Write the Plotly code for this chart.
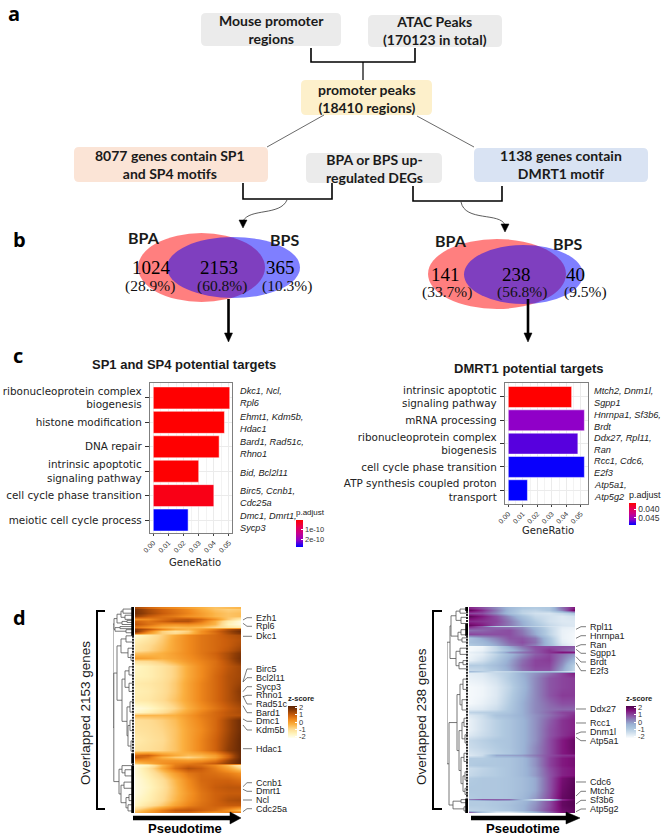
import plotly.graph_objects as go

W, H = 664, 839
# ---------- data ----------
sp_terms = ["ribonucleoprotein complex<br>biogenesis", "histone modification", "DNA repair",
            "intrinsic apoptotic<br>signaling pathway", "cell cycle phase transition", "meiotic cell cycle process"]
sp_ratio = [0.0505, 0.047, 0.0435, 0.030, 0.040, 0.023]
sp_padj = [0.13e-10, 0.13e-10, 0.13e-10, 0.14e-10, 0.3e-10, 2.69e-10]
sp_genes = ["Dkc1, Ncl,<br>Rpl6", "Ehmt1, Kdm5b,<br>Hdac1", "Bard1, Rad51c,<br>Rhno1", "Bid, Bcl2l11",
            "Birc5, Ccnb1,<br>Cdc25a", "Dmc1, Dmrt1,<br>Sycp3"]
dm_terms = ["intrinsic apoptotic<br>signaling pathway", "mRNA processing", "ribonucleoprotein complex<br>biogenesis",
            "cell cycle phase transition", "ATP synthesis coupled proton<br>transport"]
dm_ratio = [0.0437, 0.0525, 0.048, 0.0525, 0.0132]
dm_padj = [0.0361, 0.0460, 0.0473, 0.0491, 0.0493]
dm_genes = ["Mtch2, Dnm1l,<br>Sgpp1", "Hnrnpa1, Sf3b6,<br>Brdt", "Ddx27, Rpl11,<br>Ran", "Rcc1, Cdc6,<br>E2f3",
            "Atp5a1,<br>Atp5g2"]

pseudotime = [0, 1, 2, 3, 4, 5, 6, 7, 8]
left_rows = [0.3, 1.2, 3, 4.5, 5.6, 7, 8.4, 9.6, 10.7, 11.8, 12.8, 13.6, 16, 18.3, 20.7, 22.4, 24.8, 26.4, 28.8, 33.7,
             37, 41, 45, 49, 50.8, 52.4, 54.9, 59.7, 64.6, 69.4, 71.9, 73, 74.3, 75.6, 76.7, 78.3, 80.8, 84, 87.3,
             90.5, 93.7, 96.2, 98.3, 99.6]
left_z = [
    [1.4, 0.9, 0.5, 0.3, 0.0, -0.3, -0.6, -0.5, -0.4],
    [1.8, 1.3, 0.9, 0.6, 0.3, -0.2, -0.6, -0.8, -0.7],
    [1.9, 1.4, 1.0, 0.7, 0.4, 0.0, -0.4, -0.6, -0.5],
    [1.5, 1.0, 0.7, 0.5, 0.2, 0.0, -0.4, -0.6, -0.5],
    [0.2, 0.3, 0.7, 1.0, 1.1, 0.8, 0.2, -0.7, -1.5],
    [0.9, 0.6, 0.9, 1.2, 1.2, 0.6, -0.3, -1.4, -2.0],
    [1.1, 0.7, 0.3, 0.2, 0.3, 0.1, -0.4, -1.6, -2.0],
    [0.6, 0.2, -0.3, -0.5, -0.4, -0.5, -0.9, -1.3, -1.5],
    [1.6, 1.1, 0.4, -0.2, -0.4, 0.0, 0.5, 1.2, 1.6],
    [1.8, 0.5, -0.8, -1.2, -0.8, 0.2, 0.8, 1.4, 2.0],
    [1.0, 0.0, -0.8, -1.0, -0.6, 0.2, 0.7, 1.3, 1.8],
    [-1.9, -1.4, -0.8, -0.2, 0.3, 0.6, 0.8, 1.1, 1.3],
    [-1.5, -1.2, -0.7, -0.1, 0.3, 0.6, 0.8, 1.0, 1.2],
    [-1.3, -1.0, -0.6, -0.1, 0.3, 0.6, 0.8, 1.0, 1.3],
    [-1.2, -0.9, -0.5, -0.1, 0.3, 0.6, 0.8, 1.1, 1.5],
    [-0.6, -0.5, -0.3, 0.0, 0.3, 0.6, 0.9, 1.3, 1.8],
    [0.0, -0.1, -0.3, -0.1, 0.2, 0.5, 0.8, 1.3, 1.9],
    [-1.1, -1.0, -0.7, -0.3, 0.1, 0.4, 0.7, 1.2, 1.8],
    [-1.7, -1.5, -1.2, -0.8, -0.2, 0.3, 0.7, 1.1, 1.4],
    [-1.6, -1.5, -1.2, -0.8, -0.2, 0.3, 0.8, 1.2, 1.4],
    [-1.4, -1.3, -1.1, -0.7, -0.1, 0.4, 0.8, 1.2, 1.5],
    [-1.5, -1.4, -1.1, -0.7, -0.1, 0.4, 0.8, 1.2, 1.7],
    [-1.4, -1.3, -1.0, -0.6, -0.1, 0.4, 0.8, 1.2, 1.6],
    [-2.0, -1.8, -1.4, -0.9, -0.3, 0.2, 0.6, 1.0, 1.3],
    [-1.8, -1.5, -1.1, -0.6, -0.1, 0.4, 0.8, 1.1, 1.3],
    [-0.4, -0.4, -0.4, -0.3, 0.1, 0.5, 0.8, 1.1, 1.2],
    [-1.1, -1.0, -0.8, -0.5, 0.0, 0.4, 0.8, 1.4, 2.0],
    [-1.2, -1.1, -0.9, -0.6, -0.1, 0.3, 0.8, 1.4, 2.0],
    [-1.4, -1.2, -1.0, -0.6, -0.1, 0.4, 0.9, 1.5, 2.1],
    [-1.2, -1.1, -0.9, -0.6, -0.1, 0.4, 0.9, 1.6, 2.1],
    [0.8, 0.9, 0.2, -0.2, -0.5, -0.4, 0.0, 0.9, 2.1],
    [1.0, 0.6, -0.3, -0.7, -0.9, -0.6, -0.1, 0.9, 2.1],
    [0.2, 0.2, 0.1, 0.1, 0.0, 0.1, 0.5, 1.4, 2.2],
    [-0.6, -0.2, 0.2, 0.4, 0.5, 0.7, 1.0, 1.6, 2.2],
    [-2.0, -1.6, -0.4, 0.5, 0.8, 0.7, 0.3, -0.5, -1.5],
    [-1.9, -1.2, -0.2, 0.7, 1.2, 1.0, 0.5, -0.1, -0.9],
    [-1.9, -1.4, -0.7, 0.0, 0.6, 0.8, 0.7, 0.5, 0.2],
    [-2.0, -1.6, -1.1, -0.4, 0.3, 0.8, 0.9, 0.9, 0.7],
    [-2.0, -1.7, -1.2, -0.5, 0.2, 0.7, 1.0, 1.1, 1.1],
    [-2.0, -1.6, -1.1, -0.5, 0.1, 0.6, 0.9, 1.0, 1.0],
    [-1.8, -1.5, -1.0, -0.4, 0.2, 0.6, 0.9, 1.2, 1.3],
    [-1.7, -1.2, -0.7, -0.1, 0.4, 0.7, 0.9, 1.0, 1.0],
    [-0.8, -0.2, 0.5, 1.0, 1.1, 0.9, 0.7, 0.2, -0.6],
    [-0.5, 0.0, 0.5, 0.8, 0.8, 0.5, 0.2, 0.4, 0.5],
]
right_rows = [0.3, 1.6, 3, 4.5, 7, 8.9, 9.4, 9.9, 11, 13, 15, 17, 18.3, 19, 20.7, 21.7, 23, 25.6, 28, 30, 30.9, 31.3, 31.9, 34.5,
              38.6, 42.6, 46.7, 49.6, 50.8, 52.4, 55, 59, 62, 64.6, 67.8, 70.7, 71.9, 73.5, 76.7, 78.3, 81.6, 83.2,
              88.9, 92.9, 93.2, 93.8, 94.2, 96.2, 98.3, 99.5]
right_z = [
    [1.4, 0.9, 0.2, -0.5, -0.9, -1.0, -0.9, 0.5, 1.6],
    [2.0, 1.3, 0.4, -0.5, -1.1, -1.2, -0.9, 0.3, 2.0],
    [1.0, 0.9, 0.2, -0.6, -1.2, -1.5, -1.6, -1.3, -0.8],
    [2.0, 1.5, 0.9, 0.1, -0.7, -1.3, -1.5, -1.7, -1.5],
    [1.3, 1.2, 1.0, 0.4, -0.3, -1.0, -1.5, -1.7, -1.7],
    [1.9, 1.5, 0.9, 0.4, -0.2, -0.8, -1.3, -1.6, -1.7],
    [1.5, 0.7, -1.0, -1.2, -1.0, -1.2, -1.5, -1.7, -1.7],
    [1.2, 0.8, 0.6, 0.5, 0.2, -0.5, -1.3, -1.8, -1.9],
    [0.5, 0.6, 0.8, 0.9, 0.4, -0.3, -1.2, -1.9, -2.0],
    [1.0, 0.9, 0.9, 0.9, 0.5, -0.2, -1.2, -1.9, -2.1],
    [-0.8, -0.2, 0.3, 0.8, 0.8, 0.4, -0.8, -1.9, -2.1],
    [-0.7, -0.5, 0.0, 0.6, 0.9, 0.5, -0.7, -1.8, -2.1],
    [-1.0, -0.7, -0.2, 0.4, 0.7, 0.3, -0.6, -1.6, -2.0],
    [-2.1, -2.0, -1.2, -0.2, 0.5, 0.9, 0.9, 0.9, 0.8],
    [-2.1, -1.9, -1.3, -0.6, 0.1, 0.8, 1.2, 0.8, 0.5],
    [-1.9, -1.7, -0.9, 0.1, 0.5, 0.8, 1.2, 1.6, 1.5],
    [-2.0, -1.8, -1.2, -0.5, 0.1, 0.7, 1.0, 0.5, 0.0],
    [-1.9, -1.5, -0.9, -0.2, 0.5, 1.0, 1.1, 0.3, -0.6],
    [-1.0, -1.0, -0.6, -0.1, 0.6, 1.0, 1.0, 0.1, -1.2],
    [-1.3, -1.2, -0.8, -0.2, 0.5, 0.9, 0.9, -0.1, -1.3],
    [-1.4, -1.2, -0.9, -0.3, 0.4, 0.8, 0.8, -0.1, -1.4],
    [-0.5, -1.0, -1.4, -1.2, -0.9, -0.7, -0.7, -1.2, -1.8],
    [-1.8, -1.7, -1.3, -1.0, -0.3, 0.1, 0.5, 1.0, 1.5],
    [-1.9, -1.8, -1.5, -1.0, -0.4, 0.2, 0.8, 1.0, 1.1],
    [-2.1, -2.0, -1.7, -1.2, -0.5, 0.2, 0.8, 1.0, 1.1],
    [-2.1, -2.0, -1.7, -1.1, -0.4, 0.2, 0.8, 1.1, 1.1],
    [-2.1, -1.9, -1.6, -1.0, -0.3, 0.2, 0.6, 0.9, 0.9],
    [-1.8, -1.7, -1.4, -0.9, -0.3, 0.2, 0.5, 0.6, 0.6],
    [-1.2, -1.1, -1.0, -0.8, -0.3, 0.2, 0.6, 1.0, 1.1],
    [-1.7, -1.4, -0.8, -0.6, -0.3, 0.1, 0.5, 0.9, 1.3],
    [-1.9, -1.5, -1.1, -0.8, -0.4, 0.1, 0.7, 1.2, 1.4],
    [-1.9, -1.5, -1.1, -0.8, -0.4, 0.1, 0.8, 1.2, 1.4],
    [-1.7, -1.4, -1.1, -0.8, -0.4, 0.1, 0.8, 1.2, 1.5],
    [-1.3, -1.1, -0.9, -0.8, -0.4, 0.1, 0.9, 1.5, 1.9],
    [-1.4, -1.2, -1.0, -0.8, -0.4, 0.2, 0.9, 1.5, 1.9],
    [-1.6, -1.4, -1.1, -0.9, -0.4, 0.2, 0.9, 1.5, 1.8],
    [-1.7, -1.4, -0.2, -0.1, 0.0, 0.4, 0.9, 1.2, 1.3],
    [-1.0, -1.0, -0.9, -0.8, -0.5, 0.1, 1.0, 1.5, 1.7],
    [-1.0, -0.9, -0.9, -0.8, -0.5, 0.1, 1.0, 1.5, 1.7],
    [-1.4, -1.2, -1.0, -0.8, -0.5, 0.0, 0.9, 1.4, 1.6],
    [-1.3, -1.1, -1.0, -0.8, -0.5, 0.0, 0.8, 1.4, 1.6],
    [-1.0, -0.9, -0.9, -0.8, -0.6, -0.2, 0.8, 1.7, 2.0],
    [-0.9, -0.9, -0.9, -0.8, -0.6, -0.2, 0.8, 1.8, 2.1],
    [-1.0, -0.9, -0.9, -0.8, -0.5, 0.0, 0.9, 1.9, 2.1],
    [0.3, 0.8, 0.7, 0.6, -0.5, -1.6, -1.9, 1.3, 2.0],
    [-0.6, -0.2, 0.1, 0.0, -0.6, -1.2, -1.0, 1.4, 2.1],
    [-1.0, -1.0, -0.9, -0.8, -0.5, 0.0, 0.9, 1.9, 2.1],
    [-1.0, -1.0, -0.9, -0.7, -0.4, 0.1, 0.9, 1.9, 2.1],
    [-1.2, -1.1, -1.0, -0.8, -0.4, 0.2, 1.0, 1.8, 2.0],
    [0.8, -0.7, -1.6, -1.7, -1.2, -0.4, 0.6, 1.7, 2.0],
]
# dendrograms: [height, child, child...], a bare number is a leaf at that row position
left_tree = [0,
    [1, [4, [8, [10, 1, 3], [12, 4, 6]], [9, [14, 6.5, 7.5], 8.5]], [2, [7, 9.5, 10.5], [13, 11, 12.5]]],
    [0.8,
     [4, [8, [13, 14, 17], [15, 20, [18, 23, 26]]],
         [9, [12, [16, 29, 33], [16, 37, 41]], [14, [17, 46, 51], [15, [17, 55, 60], [18, 65, 70]]]]],
     [6, [9, 77, [12, 79, 82]], [8, [11, 85, 88], [13, [16, 91, 94], [15, 96, 99]]]]]]
right_tree = [0,
    [3, [4, [9, [13, 1, 3], [14, 5, 8]], [11, [14, 11, 13.5], [15, 15, 17]]],
        [9, [13, 20, 23], [12, [16, 26, 28], 30]]],
    [2, [10, [13, [16, 35, 40], [15, 45, 50]],
             [12, [15, [17, 54, 58], [18, 62, 66]], [14, [17, 71, 75], [16, [18, 80, 84], [18, 88, 91]]]]],
        [6, [14, 93.5, 95], [17, 97, 99]]]]
left_dense = [[0, 14], [71, 76], [77, 100]]
left_sparse = [[14, 71], [76, 77]]
right_dense = [[0, 2], [8, 14], [93, 100]]
right_sparse = [[2, 8], [14, 93]]

left_labels = ["Ezh1", "Rpl6", "Dkc1", "Birc5", "Bcl2l11", "Sycp3", "Rhno1", "Rad51c", "Bard1", "Dmc1", "Kdm5b",
               "Hdac1", "Ccnb1", "Dmrt1", "Ncl", "Cdc25a"]
left_label_y = [617.7, 626.3, 636.3, 669, 677.7, 686.7, 695.3, 704, 712.7, 721.3, 730, 748.7, 782.7, 791.3, 800, 808.7]
left_start_y = [620, 623.3, 636.3, 681.7, 682, 691.7, 696.7, 696, 705.7, 719, 725, 748.7, 786.7, 789.3, 800, 811.7]
right_labels = ["Rpl11", "Hnrnpa1", "Ran", "Sgpp1", "Brdt", "E2f3", "Ddx27", "Rcc1", "Dnm1l", "Atp5a1", "Cdc6",
                "Mtch2", "Sf3b6", "Atp5g2"]
right_label_y = [626.7, 635.7, 644.7, 653.3, 662, 670.7, 709, 723, 732, 740.7, 782, 791.3, 800.3, 809]
right_start_y = [629.3, 638.3, 646.7, 649.3, 656.7, 662.7, 709, 723, 734, 737.3, 782, 796, 804, 811.7]

ORANGE = ["#fffff0", "#fff2b8", "#fed98e", "#fbb040", "#f08a1d", "#cc5f0c", "#8f3d06", "#5c2405"]
PURPLE = ["#fbfdfe", "#d5e3ef", "#b0c9e0", "#9ab2d4", "#8c80b8", "#8b4aa0", "#80137c", "#4d004b"]
PADJ_SCALE = [[0, "#0000ff"], [0.25, "#9000c8"], [0.5, "#c6008e"], [0.75, "#e8004f"], [1, "#ff0000"]]


# ---------- helpers ----------
def px(x): return x / W
def py(y): return 1 - y / H

fig = go.Figure()
shapes, notes = [], []


def add_text(x, y, t, size, font="Liberation Sans", color="#1a1a1a", anchor="center", bold=False, angle=0):
    notes.append(dict(x=px(x), y=py(y), xref="paper", yref="paper", text=f"<b>{t}</b>" if bold else t,
                      showarrow=False, xanchor=anchor, yanchor="middle", textangle=angle, align="center" if anchor == "center" else "left",
                      font=dict(size=size, family=font, color=color)))


def path(d, line="#000000", width=1.0, fill=None):
    s = dict(type="path", path=d, xref="paper", yref="paper", line=dict(color=line, width=width))
    if fill:
        s["fillcolor"] = fill
    shapes.append(s)


def pts(*p):
    return "M " + " L ".join(f"{px(a):.5f},{py(b):.5f}" for a, b in p)


def box(x0, y0, x1, y1, color, r=5):
    c = lambda a, b: f"{px(a):.5f},{py(b):.5f}"
    d = (f"M {c(x0+r,y0)} L {c(x1-r,y0)} Q {c(x1,y0)} {c(x1,y0+r)} L {c(x1,y1-r)} Q {c(x1,y1)} {c(x1-r,y1)} "
         f"L {c(x0+r,y1)} Q {c(x0,y1)} {c(x0,y1-r)} L {c(x0,y0+r)} Q {c(x0,y0)} {c(x0+r,y0)} Z")
    s = dict(type="path", path=d, xref="paper", yref="paper", fillcolor=color, line=dict(width=0))
    shapes.append(s)


def ellipse(x0, y0, x1, y1, color):
    shapes.append(dict(type="circle", xref="paper", yref="paper", x0=px(x0), x1=px(x1), y0=py(y1), y1=py(y0),
                       fillcolor=color, opacity=0.5, line=dict(width=0)))


def tri(*p, color="#000000"):
    path(pts(*p) + " Z", line=color, width=0.5, fill=color)


# ---------- panel a ----------
GREY, YEL, PEACH, BLUE = "#ebebeb", "#fdf0cb", "#fbe4d6", "#d9e3f3"
box(201, 13, 341, 46, GREY); box(368, 15, 502, 47, GREY); box(301, 80, 432, 115, YEL)
box(74, 147, 268, 182, PEACH); box(306, 153, 442, 183, GREY); box(474, 148, 648, 182, BLUE)
FLOW = "Lato"
add_text(271, 30, "Mouse promoter<br>regions", 14, FLOW, bold=True)
add_text(435, 31, "ATAC Peaks<br>(170123 in total)", 14, FLOW, bold=True)
add_text(367, 98, "promoter peaks<br>(18410 regions)", 14, FLOW, bold=True)
add_text(170, 165, "8077 genes contain SP1<br>and SP4 motifs", 14, FLOW, bold=True)
add_text(374, 168, "BPA or BPS up-<br>regulated DEGs", 14, FLOW, bold=True)
add_text(561, 165, "1138 genes contain<br>DMRT1 motif", 14, FLOW, bold=True)
path(pts((311, 48), (311, 62), (415, 62), (415, 48)), width=1.6)
path(pts((363, 62), (363, 80)), width=1.2)
path(pts((324, 115), (267, 147)), line="#444444", width=0.8)
path(pts((417, 116), (474, 147)), line="#444444", width=0.8)
path(pts((243, 183), (243, 199), (332, 199), (332, 183)), width=1.6)
path(pts((413, 186), (413, 201), (502, 201), (502, 186)), width=1.6)
c = lambda a, b: f"{px(a):.5f},{py(b):.5f}"
path(f"M {c(287,200)} C {c(280,216)} {c(250,208)} {c(243,221)}", line="#333333", width=0.8)
path(f"M {c(461,202)} C {c(465,222)} {c(500,212)} {c(505,225)}", line="#333333", width=0.8)
tri((239, 220), (247, 220), (243, 228))
tri((501, 224), (509, 224), (505, 232))

# ---------- panel b ----------
ellipse(138, 233, 265, 302, "#ff0000"); ellipse(167, 237, 300, 298, "#0000ff")
ellipse(428, 239, 566, 309, "#ff0000"); ellipse(464, 245, 583, 304, "#0000ff")
for x, y, t in [(144, 237, "BPA"), (284, 239, "BPS"), (451, 240, "BPA"), (567, 243, "BPS")]:
    add_text(x, y, t, 16, FLOW, bold=True)
for x, y, t in [(151, 267, "1024"), (219, 267, "2153"), (280, 267, "365"), (445, 274, "141"), (516, 274, "238"), (575, 274, "40")]:
    add_text(x, y, t, 19, "Liberation Serif", color="#000000")
for x, y, t in [(150, 286, "(28.9%)"), (222, 286, "(60.8%)"), (287, 286, "(10.3%)"), (447, 292, "(33.7%)"), (522, 292, "(56.8%)"), (585, 292, "(9.5%)")]:
    add_text(x, y, t, 15.5, "Liberation Serif", color="#111111")
for x in (228.5, 528):
    path(pts((x, 299), (x, 335)), width=2.6)
    tri((x - 4, 333), (x + 4, 333), (x, 342))
for x, y, t in [(14, 14, "a"), (19, 239, "b"), (18, 355, "c"), (19, 617, "d")]:
    add_text(x, y, t, 20, "Open Sans", color="#000000", bold=True)

# ---------- panel c ----------
add_text(184, 364, "SP1 and SP4 potential targets", 13, bold=True)
add_text(529, 368, "DMRT1 potential targets", 13, bold=True)
fig.add_trace(go.Bar(y=sp_terms, x=sp_ratio, orientation="h", width=0.9, xaxis="x", yaxis="y",
                     marker=dict(color=[-p for p in sp_padj], coloraxis="coloraxis", line=dict(color="#ffffff", width=0.5))))
fig.add_trace(go.Bar(y=dm_terms, x=dm_ratio, orientation="h", width=0.9, xaxis="x2", yaxis="y2",
                     marker=dict(color=[-p for p in dm_padj], coloraxis="coloraxis2", line=dict(color="#ffffff", width=0.5))))
for y, t in zip([397, 423, 447.5, 473, 497, 522], sp_genes):
    add_text(238, y, f"<i>{t}</i>", 9.2, anchor="left", color="#222222")
for y, t in zip([397, 420.5, 443.5, 467, 491], dm_genes):
    add_text(592, y, f"<i>{t}</i>", 9.2, anchor="left", color="#222222")
add_text(195, 562, "GeneRatio", 10, "DejaVu Sans", color="#222222")
add_text(548, 530, "GeneRatio", 10, "DejaVu Sans", color="#222222")


def bar_axes(dom_x, dom_y, xr, yr):
    xa = dict(domain=[px(dom_x[0]), px(dom_x[1])], range=xr, tickvals=[0, 0.01, 0.02, 0.03, 0.04, 0.05],
              ticktext=["0.00", "0.01", "0.02", "0.03", "0.04", "0.05"], tickangle=-45, ticks="outside", ticklen=2,
              tickfont=dict(size=7, family="Liberation Sans", color="#333333"), tickcolor="#444444",
              showline=True, mirror=True, linecolor="#7f7f7f", linewidth=1.4, gridcolor="#ebebeb", gridwidth=1,
              zeroline=False, minor=dict(dtick=0.005, showgrid=True, gridcolor="#f3f3f3", gridwidth=0.5))
    ya = dict(domain=[py(dom_y[1]), py(dom_y[0])], range=yr, ticks="outside", ticklen=4, tickcolor="#333333",
              ticklabelstandoff=1, tickfont=dict(size=10.4, family="DejaVu Sans", color="#222222"),
              showline=True, mirror=True, linecolor="#7f7f7f", linewidth=1.4, gridcolor="#ebebeb", zeroline=False)
    return xa, ya


xa1, ya1 = bar_axes((150, 232), (383, 533), [-0.00218, 0.052], [5.53, -0.61])
xa2, ya2 = bar_axes((505, 588), (383, 504), [-0.00228, 0.055], [4.59, -0.6])


def cbar_common(x, y_top, length, thick, title, size, tickvals, ticktext, bold=False):
    return dict(x=px(x), xanchor="left", xref="paper", y=py(y_top), yanchor="top", yref="paper", lenmode="pixels", len=length,
                thicknessmode="pixels", thickness=thick, xpad=0, ypad=0, outlinewidth=0, tickvals=tickvals,
                ticktext=ticktext, ticks="inside", ticklen=2, tickcolor="#ffffff",
                tickfont=dict(size=size, family="Liberation Sans", color="#333333"),
                title=dict(text=f"<b>{title}</b>" if bold else title, side="top",
                           font=dict(size=size + (0 if bold else 0.5), family="Liberation Sans", color="#222222")))


# ---------- panel d ----------
fig.add_trace(go.Heatmap(x=pseudotime, y=left_rows, z=left_z, zmin=-2.2, zmax=2.2, zsmooth="best", xaxis="x3", yaxis="y3",
                         colorscale=[[i / 7, v] for i, v in enumerate(ORANGE)], hoverinfo="skip",
                         colorbar=cbar_common(288, 692, 46, 9, "z-score", 7.5, [-2, -1, 0, 1, 2], ["-2", "-1", "0", "1", "2"], True)))
fig.add_trace(go.Heatmap(x=pseudotime, y=right_rows, z=right_z, zmin=-2.2, zmax=2.2, zsmooth="best", xaxis="x4", yaxis="y4",
                         colorscale=[[i / 7, v] for i, v in enumerate(PURPLE)], hoverinfo="skip",
                         colorbar=cbar_common(626, 692, 46, 10, "z-score", 7.5, [-2, -1, 0, 1, 2], ["-2", "-1", "0", "1", "2"], True)))


def walk(node, xs, ys, leaf=21):
    if not isinstance(node, list):
        return node, leaf
    h, kids = node[0], node[1:]
    done = [walk(k, xs, ys) for k in kids]
    yv = [d[0] for d in done]
    xs += [h, h, None]; ys += [min(yv), max(yv), None]
    for yy, hh in done:
        xs += [h, hh, None]; ys += [yy, yy, None]
    return (min(yv) + max(yv)) / 2, h


for tree, dense, sparse, ax, ay in [(left_tree, left_dense, left_sparse, "x5", "y3"), (right_tree, right_dense, right_sparse, "x6", "y4")]:
    xs, ys = [], []
    walk(tree, xs, ys)
    fig.add_trace(go.Scatter(x=xs, y=ys, mode="lines", line=dict(color="#555555", width=0.8), xaxis=ax, yaxis=ay, hoverinfo="skip"))
    for spans, width, dash, col in [(dense, 3.5, "solid", "#000000"), (sparse, 2, "2px,1px", "#222222")]:
        fx, fy = [], []
        for a, b in spans:
            fx += [20, 20, None]; fy += [a, b, None]
        fig.add_trace(go.Scatter(x=fx, y=fy, mode="lines", line=dict(color=col, width=width, dash=dash), xaxis=ax, yaxis=ay, hoverinfo="skip"))

for labels, ly, sy, x0, x1, x2, xt in [(left_labels, left_label_y, left_start_y, 243, 247, 252, 254),
                                       (right_labels, right_label_y, right_start_y, 576, 581, 586, 588)]:
    for t, a, b in zip(labels, ly, sy):
        path(pts((x0, b), (x1, a), (x2, a)), line="#444444", width=0.7)
        add_text(xt, a, t, 9, anchor="left", color="#222222")

path(pts((105, 611), (97, 611), (97, 809), (105, 809)), width=2)
path(pts((442, 611), (433, 611), (433, 809), (442, 809)), width=2)
add_text(85, 713, "Overlapped 2153 genes", 13.5, angle=-90)
add_text(421, 717, "Overlapped 238 genes", 13.5, angle=-90)
path(pts((133, 818), (231, 818)), width=4.3)
tri((230, 812), (241, 818), (230, 824))
path(pts((471, 818), (567, 818)), width=4.3)
tri((566, 812), (580, 818), (566, 824))
add_text(185, 828, "Pseudotime", 13, bold=True, color="#000000")
add_text(523, 828, "Pseudotime", 13, bold=True, color="#000000")

hide = dict(visible=False, showgrid=False, zeroline=False)
fig.update_layout(
    width=W, height=H, autosize=False, margin=dict(l=0, r=0, t=0, b=0, autoexpand=False), paper_bgcolor="#ffffff", plot_bgcolor="#ffffff",
    showlegend=False, barmode="overlay", shapes=shapes, annotations=notes,
    xaxis=xa1, yaxis=ya1, xaxis2=dict(xa2, anchor="y2"), yaxis2=dict(ya2, anchor="x2"),
    xaxis3=dict(hide, domain=[px(135), px(241)], range=[0, 8], anchor="y3"),
    yaxis3=dict(hide, domain=[py(813), py(607)], range=[100, 0], anchor="x3"),
    xaxis4=dict(hide, domain=[px(469), px(575)], range=[0, 8], anchor="y4"),
    yaxis4=dict(hide, domain=[py(813), py(607)], range=[100, 0], anchor="x4"),
    xaxis5=dict(hide, domain=[px(113), px(134)], range=[0, 21], anchor="y3"),
    xaxis6=dict(hide, domain=[px(447), px(468)], range=[0, 21], anchor="y4"),
    coloraxis=dict(cmin=-2.69e-10, cmax=-0.125e-10, colorscale=PADJ_SCALE,
                   colorbar=cbar_common(296, 506, 41, 7, "p.adjust", 7.5, [-1e-10, -2e-10], ["1e-10", "2e-10"])),
    coloraxis2=dict(cmin=-0.0493, cmax=-0.0361, colorscale=PADJ_SCALE,
                    colorbar=cbar_common(629, 488, 37, 7, "p.adjust", 8.5, [-0.040, -0.045], ["0.040", "0.045"])),
)
fig.write_html("out.html", config=dict(displayModeBar=False), post_script="document.body.style.margin='0';")
